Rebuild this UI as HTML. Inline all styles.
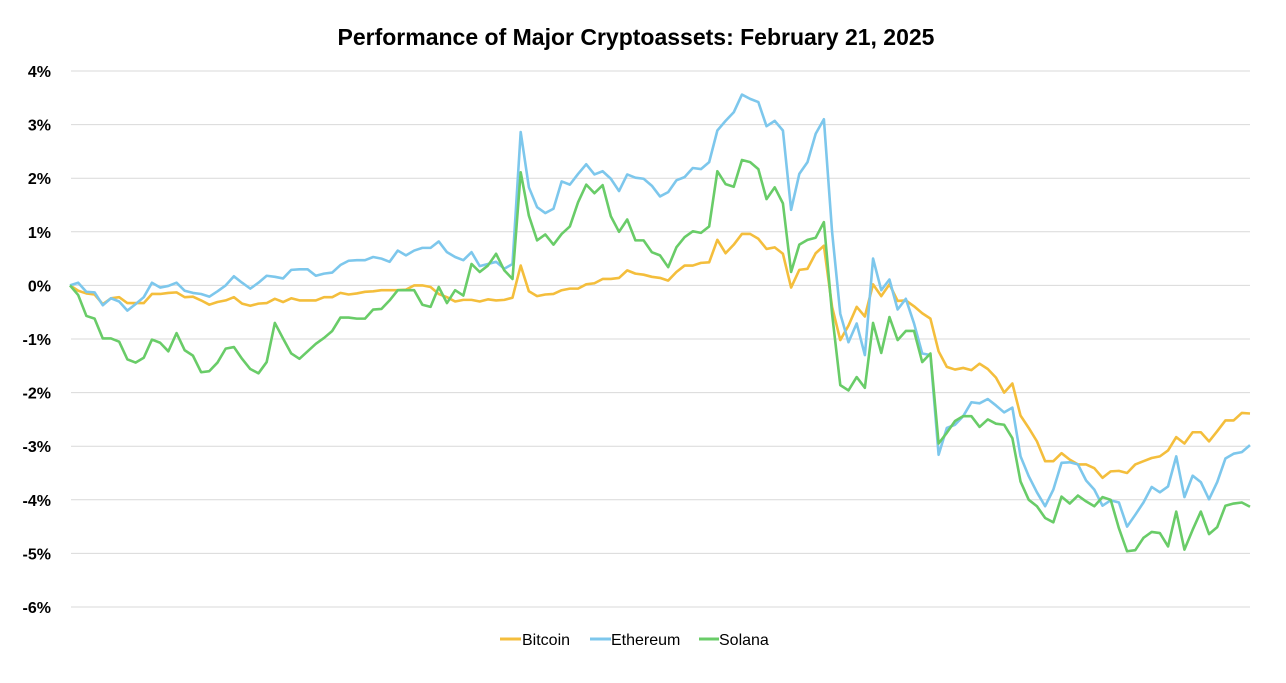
<!DOCTYPE html>
<html><head><meta charset="utf-8"><style>
html,body{margin:0;padding:0;background:#fff;}
svg text{font-family:"Liberation Sans",Arial,sans-serif;}
</style></head><body>
<svg id="chart" width="1286" height="678" viewBox="0 0 1286 678" xmlns="http://www.w3.org/2000/svg">
<text x="636" y="45" text-anchor="middle" font-size="23" font-weight="bold" fill="#000">Performance of Major Cryptoassets: February 21, 2025</text>
<g id="grid"></g>
<g id="yaxis"></g>
<g id="series"></g>
<g>
<g><line x1="500" y1="639" x2="521" y2="639" stroke="#F4BE3C" stroke-width="3"/><text x="522" y="645" font-size="16" fill="#000">Bitcoin</text></g>
<g><line x1="590" y1="639" x2="611" y2="639" stroke="#7DC7EC" stroke-width="3"/><text x="611" y="645" font-size="16" fill="#000">Ethereum</text></g>
<g><line x1="699" y1="639" x2="719" y2="639" stroke="#69CC68" stroke-width="3"/><text x="719" y="645" font-size="16" fill="#000">Solana</text></g>
</g>
</svg>
<script>
const yTicks = [4,3,2,1,0,-1,-2,-3,-4,-5,-6];
const tickLabels = ["4%","3%","2%","1%","0%","-1%","-2%","-3%","-4%","-5%","-6%"];
const bitcoin = [0,-0.1,-0.15,-0.17,-0.35,-0.24,-0.22,-0.33,-0.33,-0.33,-0.16,-0.16,-0.14,-0.13,-0.22,-0.21,-0.28,-0.36,-0.31,-0.28,-0.22,-0.34,-0.38,-0.34,-0.33,-0.25,-0.31,-0.24,-0.28,-0.28,-0.28,-0.22,-0.22,-0.14,-0.17,-0.15,-0.12,-0.11,-0.09,-0.09,-0.09,-0.08,0,0,-0.03,-0.16,-0.22,-0.3,-0.27,-0.27,-0.3,-0.26,-0.28,-0.27,-0.23,0.37,-0.11,-0.2,-0.17,-0.16,-0.09,-0.06,-0.06,0.02,0.04,0.12,0.12,0.14,0.28,0.22,0.2,0.16,0.14,0.09,0.25,0.37,0.37,0.42,0.43,0.85,0.6,0.76,0.96,0.96,0.87,0.68,0.71,0.59,-0.04,0.29,0.31,0.6,0.74,-0.4,-1.02,-0.75,-0.4,-0.58,0.02,-0.2,0.02,-0.29,-0.28,-0.39,-0.52,-0.62,-1.23,-1.52,-1.57,-1.54,-1.58,-1.46,-1.56,-1.72,-2.0,-1.83,-2.43,-2.66,-2.91,-3.28,-3.28,-3.13,-3.25,-3.34,-3.34,-3.41,-3.59,-3.47,-3.46,-3.5,-3.34,-3.28,-3.22,-3.19,-3.08,-2.83,-2.95,-2.74,-2.74,-2.91,-2.72,-2.52,-2.52,-2.38,-2.39];
const ethereum = [0,0.05,-0.12,-0.13,-0.37,-0.24,-0.3,-0.47,-0.35,-0.22,0.05,-0.04,-0.01,0.05,-0.1,-0.14,-0.16,-0.21,-0.11,0,0.17,0.05,-0.06,0.05,0.18,0.16,0.13,0.29,0.3,0.3,0.18,0.22,0.24,0.38,0.46,0.47,0.47,0.53,0.5,0.44,0.65,0.56,0.65,0.7,0.7,0.82,0.62,0.53,0.47,0.62,0.36,0.4,0.44,0.31,0.4,2.86,1.83,1.46,1.35,1.43,1.94,1.88,2.08,2.26,2.07,2.13,1.99,1.76,2.07,2.01,1.99,1.86,1.66,1.74,1.96,2.02,2.19,2.17,2.3,2.89,3.07,3.23,3.56,3.48,3.42,2.97,3.07,2.89,1.41,2.08,2.3,2.83,3.1,1.0,-0.53,-1.06,-0.71,-1.3,0.5,-0.09,0.11,-0.45,-0.25,-0.71,-1.27,-1.3,-3.16,-2.66,-2.6,-2.44,-2.18,-2.2,-2.12,-2.24,-2.37,-2.28,-3.19,-3.56,-3.86,-4.12,-3.81,-3.31,-3.3,-3.34,-3.64,-3.81,-4.11,-4.01,-4.05,-4.5,-4.28,-4.05,-3.76,-3.86,-3.75,-3.19,-3.95,-3.55,-3.67,-3.99,-3.67,-3.23,-3.14,-3.11,-2.98];
const solana = [0,-0.18,-0.57,-0.62,-0.99,-0.99,-1.05,-1.38,-1.44,-1.35,-1.01,-1.07,-1.23,-0.89,-1.21,-1.31,-1.62,-1.6,-1.44,-1.18,-1.15,-1.37,-1.56,-1.64,-1.43,-0.7,-0.99,-1.27,-1.37,-1.23,-1.09,-0.98,-0.85,-0.6,-0.6,-0.62,-0.62,-0.45,-0.44,-0.28,-0.09,-0.09,-0.09,-0.36,-0.4,-0.03,-0.33,-0.09,-0.19,0.4,0.25,0.37,0.59,0.28,0.12,2.11,1.3,0.84,0.95,0.76,0.96,1.1,1.55,1.88,1.72,1.87,1.29,1.0,1.23,0.84,0.84,0.62,0.56,0.34,0.71,0.9,1.01,0.98,1.1,2.13,1.89,1.84,2.34,2.3,2.17,1.61,1.83,1.53,0.25,0.76,0.85,0.89,1.18,-0.53,-1.86,-1.96,-1.71,-1.91,-0.7,-1.26,-0.59,-1.02,-0.85,-0.85,-1.43,-1.27,-2.95,-2.75,-2.53,-2.44,-2.44,-2.64,-2.5,-2.58,-2.6,-2.85,-3.66,-4.0,-4.12,-4.34,-4.42,-3.94,-4.07,-3.92,-4.03,-4.12,-3.95,-4.0,-4.53,-4.96,-4.94,-4.71,-4.6,-4.62,-4.87,-4.22,-4.93,-4.56,-4.22,-4.64,-4.51,-4.11,-4.07,-4.05,-4.13];

const X0 = 70, X1 = 1250, Y4 = 71, Y6 = 607;
function yScale(v){ return Y4 + (4 - v) * (Y6 - Y4) / 10; }
function xScale(i, n){ return X0 + i * (X1 - X0) / (n - 1); }
const NS = "http://www.w3.org/2000/svg";
const grid = document.getElementById('grid');
const yaxis = document.getElementById('yaxis');
yTicks.forEach((t, k) => {
  const y = yScale(t);
  const ln = document.createElementNS(NS, 'line');
  ln.setAttribute('x1', 71); ln.setAttribute('x2', 1250);
  ln.setAttribute('y1', y); ln.setAttribute('y2', y);
  ln.setAttribute('stroke', '#d9d9d9'); ln.setAttribute('stroke-width', '1');
  
  
  grid.appendChild(ln);
  const tx = document.createElementNS(NS, 'text');
  tx.setAttribute('x', 51); tx.setAttribute('y', y + 6);
  tx.setAttribute('text-anchor', 'end');
  tx.setAttribute('font-size', '16'); tx.setAttribute('font-weight', 'bold');
  tx.textContent = tickLabels[k];
  
  
  yaxis.appendChild(tx);
});
const seriesG = document.getElementById('series');
function drawLine(arr, color, name){
  const pts = arr.map((v, i) => xScale(i, arr.length).toFixed(2) + ',' + yScale(v).toFixed(2)).join(' ');
  const pl = document.createElementNS(NS, 'polyline');
  pl.setAttribute('points', pts);
  pl.setAttribute('fill', 'none');
  pl.setAttribute('stroke', color);
  pl.setAttribute('stroke-width', '2.6');
  pl.setAttribute('stroke-linejoin', 'round');
  
  
  seriesG.appendChild(pl);
}
drawLine(bitcoin, '#F4BE3C', 'bitcoin-line');
drawLine(ethereum, '#7DC7EC', 'ethereum-line');
drawLine(solana, '#69CC68', 'solana-line');
</script>
</body></html>
